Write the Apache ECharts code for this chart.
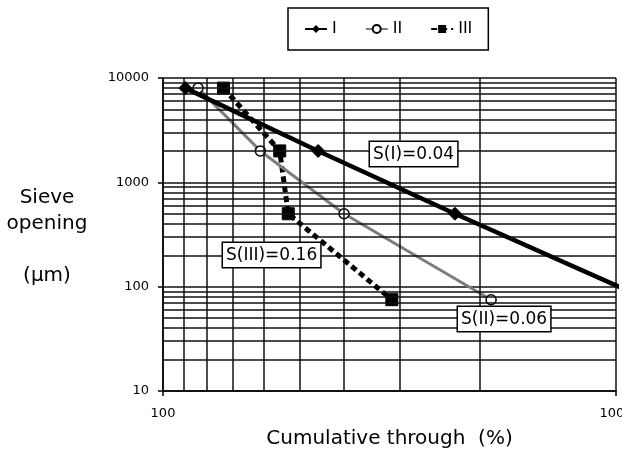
<!DOCTYPE html>
<html>
<head>
<meta charset="utf-8">
<script src="https://cdn.jsdelivr.net/npm/echarts@6/dist/echarts.min.js"></script>
<style>html,body{margin:0;padding:0;background:#fff}#c{width:622px;height:450px}</style>
</head>
<body>
<div id="c"></div>
<script>
// Data (log-log axes)
const seriesNames = ['I', 'II', 'III'];
const seriesI = [[112, 8000], [220, 2000], [441, 500], [1176, 75]];
const seriesII = [[119.5, 8000], [164, 2000], [251, 500], [530, 75]];
const seriesIII = [[136, 8000], [181, 2000], [189, 500], [320, 75]];
const slopeLabels = ['S(I)=0.04', 'S(II)=0.06', 'S(III)=0.16'];
const xRange = [100, 1000];
const yRange = [10, 10000];
// minor gridline values
const xMinorGrid = [1000/9, 1000/8, 1000/7, 1000/6, 1000/5, 1000/4, 1000/3, 1000/2];
const yMinorGrid = [20,30,40,50,60,70,80,90,200,300,400,500,600,700,800,900,2000,3000,4000,5000,6000,7000,8000,9000];

const FONT = '"DejaVu Sans", "Liberation Sans", Arial, sans-serif';
const chart = echarts.init(document.getElementById('c'), null, {renderer: 'canvas'});
const gridLine = {color: '#111', width: 1.5, type: 'solid'};

const markLines = {
  silent: true,
  symbol: 'none',
  label: {show: false},
  lineStyle: gridLine,
  animation: false,
  data: xMinorGrid.map(v => ({xAxis: v})).concat(yMinorGrid.map(v => ({yAxis: v})))
};

chart.setOption({
  animation: false,
  backgroundColor: '#fff',
  grid: {left: 163, right: 6, top: 78, bottom: 59, containLabel: false, outerBoundsMode: 'none'},
  legend: {
    left: 288, top: 8,
    padding: [13, 16, 13, 16],
    itemGap: 28, itemWidth: 22, itemHeight: 10,
    borderColor: '#000', borderWidth: 1.5,
    textStyle: {fontFamily: FONT, fontSize: 16, color: '#000'},
    data: seriesNames
  },
  xAxis: {
    type: 'log', logBase: 10, min: xRange[0], max: xRange[1],
    name: 'Cumulative through  (%)', nameLocation: 'middle', nameGap: 38, nameMoveOverlap: false,
    nameTextStyle: {fontFamily: FONT, fontSize: 20, color: '#000'},
    axisLine: {lineStyle: {color: '#000', width: 1.5}},
    axisTick: {show: true, length: 5, lineStyle: {color: '#000', width: 1.5}},
    axisLabel: {fontFamily: FONT, fontSize: 13, color: '#000', margin: 16, formatter: v => String(Math.round(v)), hideOverlap: false},
    splitLine: {show: true, lineStyle: gridLine},
    minorTick: {show: false}, minorSplitLine: {show: false}
  },
  yAxis: {
    type: 'log', logBase: 10, min: yRange[0], max: yRange[1],
    axisLine: {show: true, lineStyle: {color: '#000', width: 1.5}},
    axisTick: {show: true, length: 5, lineStyle: {color: '#000', width: 1.5}},
    axisLabel: {fontFamily: FONT, fontSize: 13, color: '#000', margin: 14, formatter: v => String(Math.round(v))},
    splitLine: {show: true, lineStyle: gridLine},
    minorTick: {show: false}, minorSplitLine: {show: false}
  },
  graphic: [
    {type: 'text', x: 47, y: 185, silent: true,
     style: {text: 'Sieve\nopening\n\n(μm)', font: '20px ' + FONT, fill: '#000', align: 'center', verticalAlign: 'top', lineHeight: 26}},
    {type: 'text', x: 370, y: 142, z: 100, silent: true,
     style: {text: slopeLabels[0], font: '17px ' + FONT, fill: '#000', backgroundColor: '#fff', borderColor: '#000', borderWidth: 1.5, padding: [4, 3, 3, 3]}},
    {type: 'text', x: 458, y: 307, z: 100, silent: true,
     style: {text: slopeLabels[1], font: '17px ' + FONT, fill: '#000', backgroundColor: '#fff', borderColor: '#000', borderWidth: 1.5, padding: [4, 3, 3, 3]}},
    {type: 'text', x: 223, y: 243, z: 100, silent: true,
     style: {text: slopeLabels[2], font: '17px ' + FONT, fill: '#000', backgroundColor: '#fff', borderColor: '#000', borderWidth: 1.5, padding: [4, 3, 3, 3]}}
  ],
  series: [
    {
      name: seriesNames[0], type: 'line', data: seriesI, clip: true,
      symbol: 'diamond', symbolSize: 13,
      lineStyle: {color: '#000', width: 4.5},
      itemStyle: {color: '#000', borderColor: '#000'},
      z: 5,
      markLine: markLines
    },
    {
      name: seriesNames[1], type: 'line', data: seriesII, clip: true,
      symbol: 'circle', symbolSize: 10,
      lineStyle: {color: '#7d7d7d', width: 3},
      itemStyle: {color: '#fff', borderColor: '#000', borderWidth: 1.5},
      z: 4
    },
    {
      name: seriesNames[2], type: 'line', data: seriesIII, clip: true,
      symbol: 'rect', symbolSize: 12,
      lineStyle: {color: '#000', width: 5, type: [6, 4]},
      itemStyle: {color: '#000', borderColor: '#000'},
      z: 3
    }
  ]
});
</script>
</body>
</html>
